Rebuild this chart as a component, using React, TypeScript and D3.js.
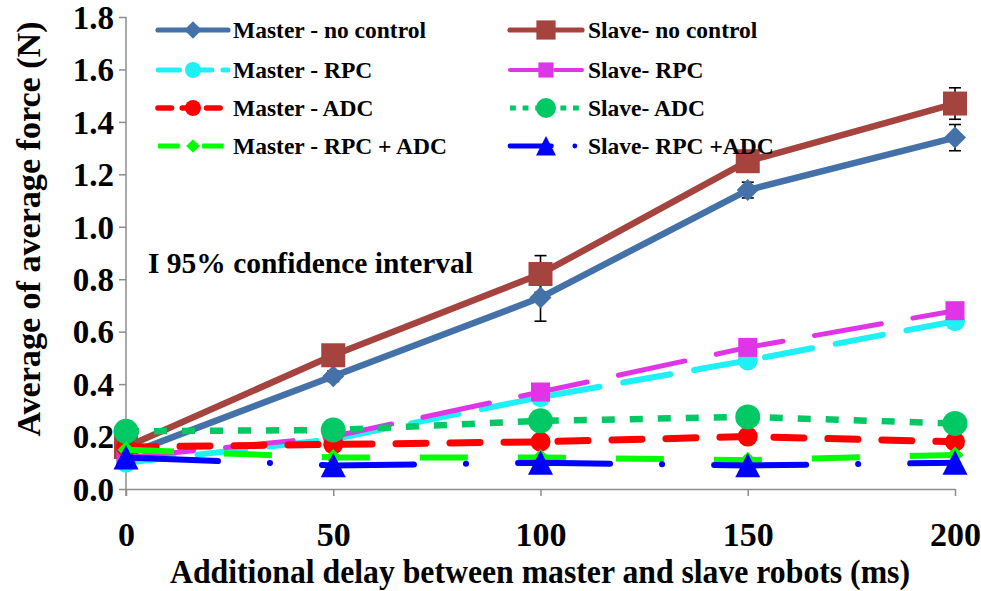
import React, { useEffect, useRef } from "react";
import * as d3 from "d3";

// delays in ms (x categories)
const delays = [0, 50, 100, 150, 200];

// average force values (N)
const masterNoControl = [0.13, 0.43, 0.73, 1.14, 1.34];
const slaveNoControl = [0.16, 0.51, 0.82, 1.25, 1.47];
const masterRPC = [0.1, 0.19, 0.35, 0.49, 0.64];
const slaveRPC = [0.12, 0.2, 0.37, 0.54, 0.68];
const masterADC = [0.16, 0.17, 0.18, 0.2, 0.18];
const slaveADC = [0.22, 0.225, 0.26, 0.275, 0.25];
const masterRPCADC = [0.15, 0.12, 0.12, 0.11, 0.13];
const slaveRPCADC = [0.12, 0.09, 0.1, 0.09, 0.1];

// 95% confidence half widths
const masterNoControlErr = [0, 0.02, 0.09, 0.03, 0.05];
const slaveNoControlErr = [0, 0.02, 0.07, 0.02, 0.06];

const yTicks = [0, 0.2, 0.4, 0.6, 0.8, 1.0, 1.2, 1.4, 1.6, 1.8];
const xTicks = [0, 50, 100, 150, 200];

const font = "Liberation Serif, Times New Roman, serif";

type Series = {
  name: string;
  values: number[];
  color: string;
  width: number;
  dash: string;
  cap: string;
  marker: string;
  size: number;
  col: number;
  row: number;
};

const series: Series[] = [
  { name: "Master - no control", values: masterNoControl, color: "#4472a8", width: 6.5, dash: "none", cap: "round", marker: "diamond", size: 11, col: 0, row: 0 },
  { name: "Slave- no control", values: slaveNoControl, color: "#a5433e", width: 6.5, dash: "none", cap: "round", marker: "square", size: 12, col: 1, row: 0 },
  { name: "Master - RPC", values: masterRPC, color: "#1ef0f5", width: 6, dash: "48,24", cap: "round", marker: "circle", size: 10, col: 0, row: 1 },
  { name: "Slave- RPC", values: slaveRPC, color: "#e035e6", width: 5, dash: "68,32", cap: "round", marker: "square", size: 9.5, col: 1, row: 1 },
  { name: "Master - ADC", values: masterADC, color: "#ff0000", width: 7, dash: "30,24", cap: "round", marker: "circle", size: 10, col: 0, row: 2 },
  { name: "Slave- ADC", values: slaveADC, color: "#00c864", width: 6.5, dash: "13,15", cap: "butt", marker: "circle", size: 12.5, col: 1, row: 2 },
  { name: "Master - RPC + ADC", values: masterRPCADC, color: "#00ff00", width: 6, dash: "48,50", cap: "butt", marker: "diamond", size: 8.5, col: 0, row: 3 },
  { name: "Slave- RPC +ADC", values: slaveRPCADC, color: "#0000ff", width: 6, dash: "92,52,0.1,52", cap: "round", marker: "triangle", size: 12.5, col: 1, row: 3 },
];

function markerPath(type: string, r: number): string {
  if (type === "diamond") return `M0,${-r}L${r},0L0,${r}L${-r},0Z`;
  if (type === "square") return `M${-r},${-r}H${r}V${r}H${-r}Z`;
  if (type === "triangle") return `M0,${-r}L${r},${r * 0.95}H${-r}Z`;
  return d3.symbol(d3.symbolCircle, Math.PI * r * r)() as string;
}

function Chart() {
  const ref = useRef<SVGSVGElement>(null);

  useEffect(() => {
    const w = 981;
    const h = 591;
    const svg = d3.select(ref.current);
    svg.selectAll("*").remove();
    svg.attr("width", w).attr("height", h).style("font-family", font);

    const x = d3.scaleLinear().domain([0, 200]).range([126, 955]);
    const y = d3.scaleLinear().domain([0, 1.8]).range([489, 17]);

    // y axis
    const yAxis = svg
      .append("g")
      .attr("transform", "translate(126,0)")
      .call(d3.axisLeft(y).tickValues(yTicks).tickSize(7).tickSizeOuter(0).tickFormat(d3.format(".1f")));
    yAxis.attr("font-family", null);
    yAxis.select(".domain").attr("stroke", "#8c8c8c").attr("stroke-width", 1.5).attr("d", `M0,${y(1.8)}V${y(0) + 7}`);
    yAxis.selectAll(".tick line").attr("stroke", "#8c8c8c").attr("stroke-width", 1.5);
    yAxis
      .selectAll(".tick text")
      .attr("x", -12)
      .attr("dy", "0.34em")
      .style("font-family", font)
      .attr("font-weight", "bold")
      .attr("font-size", 33)
      .attr("fill", "#000");

    // x axis
    const xAxis = svg
      .append("g")
      .attr("transform", "translate(0,489)")
      .call(d3.axisBottom(x).tickValues(xTicks).tickSize(7).tickSizeOuter(0).tickFormat(d3.format("d")));
    xAxis.attr("font-family", null);
    xAxis.select(".domain").attr("stroke", "#8c8c8c").attr("stroke-width", 1.5);
    xAxis.selectAll(".tick line").attr("stroke", "#8c8c8c").attr("stroke-width", 1.5);
    xAxis
      .selectAll(".tick text")
      .attr("y", 33)
      .style("font-family", font)
      .attr("font-weight", "bold")
      .attr("font-size", 34)
      .attr("fill", "#000");

    // axis titles
    svg
      .append("text")
      .attr("x", 540)
      .attr("y", 583)
      .attr("text-anchor", "middle")
      .attr("font-weight", "bold")
      .attr("font-size", 34)
      .attr("textLength", 740)
      .attr("lengthAdjust", "spacingAndGlyphs")
      .text("Additional delay between master and slave robots (ms)");

    svg
      .append("text")
      .attr("transform", "translate(40,229) rotate(-90)")
      .attr("text-anchor", "middle")
      .attr("font-weight", "bold")
      .attr("font-size", 34)
      .attr("textLength", 415)
      .attr("lengthAdjust", "spacingAndGlyphs")
      .text("Average of average force (N)");

    svg
      .append("text")
      .attr("x", 148)
      .attr("y", 273)
      .attr("font-weight", "bold")
      .attr("font-size", 30)
      .attr("textLength", 325)
      .attr("lengthAdjust", "spacingAndGlyphs")
      .text("I 95% confidence interval");

    // error bars
    const errs = [
      { values: masterNoControl, err: masterNoControlErr },
      { values: slaveNoControl, err: slaveNoControlErr },
    ];
    errs.forEach((s) => {
      const g = svg.append("g").attr("stroke", "#000").attr("stroke-width", 1.6);
      delays.forEach((d, i) => {
        if (!s.err[i]) return;
        const lo = y(s.values[i] - s.err[i]);
        const hi = y(s.values[i] + s.err[i]);
        g.append("line").attr("x1", x(d)).attr("x2", x(d)).attr("y1", lo).attr("y2", hi);
        g.append("line").attr("x1", x(d) - 6).attr("x2", x(d) + 6).attr("y1", lo).attr("y2", lo);
        g.append("line").attr("x1", x(d) - 6).attr("x2", x(d) + 6).attr("y1", hi).attr("y2", hi);
      });
    });

    // series lines and markers
    const line = d3
      .line<number>()
      .x((_, i) => x(delays[i]))
      .y((d) => y(d));

    series.forEach((s) => {
      svg
        .append("path")
        .attr("d", line(s.values))
        .attr("fill", "none")
        .attr("stroke", s.color)
        .attr("stroke-width", s.width)
        .attr("stroke-dasharray", s.dash)
        .attr("stroke-linecap", s.cap)
        .attr("stroke-linejoin", "round");
      svg
        .append("g")
        .selectAll("path")
        .data(s.values)
        .join("path")
        .attr("transform", (d, i) => `translate(${x(delays[i])},${y(d)})`)
        .attr("d", markerPath(s.marker, s.size))
        .attr("fill", s.color);
    });

    // legend
    const legendRows = [30, 70, 108, 146];
    const legendCols = [
      { x0: 158, x1: 228, tx: 233 },
      { x0: 510, x1: 582, tx: 588 },
    ];
    series.forEach((s) => {
      const c = legendCols[s.col];
      const ry = legendRows[s.row];
      const g = svg.append("g");
      g.append("line")
        .attr("x1", c.x0)
        .attr("x2", c.x1)
        .attr("y1", ry)
        .attr("y2", ry)
        .attr("stroke", s.color)
        .attr("stroke-width", s.width * 0.8)
        .attr("stroke-dasharray", s.dash === "none" ? "none" : s.dash.split(",").map((v) => +v * 0.45).join(","))
        .attr("stroke-linecap", s.cap);
      g.append("path")
        .attr("transform", `translate(${(c.x0 + c.x1) / 2},${ry})`)
        .attr("d", markerPath(s.marker, s.size * 0.8))
        .attr("fill", s.color);
      g.append("text")
        .attr("x", c.tx)
        .attr("y", ry + 8)
        .attr("font-weight", "bold")
        .attr("font-size", 23.5)
        .text(s.name);
    });
  }, []);

  return <svg ref={ref} />;
}

export default function App() {
  return (
    <div style={{ position: "absolute", left: 0, top: 0, background: "#fff" }}>
      <Chart />
    </div>
  );
}
